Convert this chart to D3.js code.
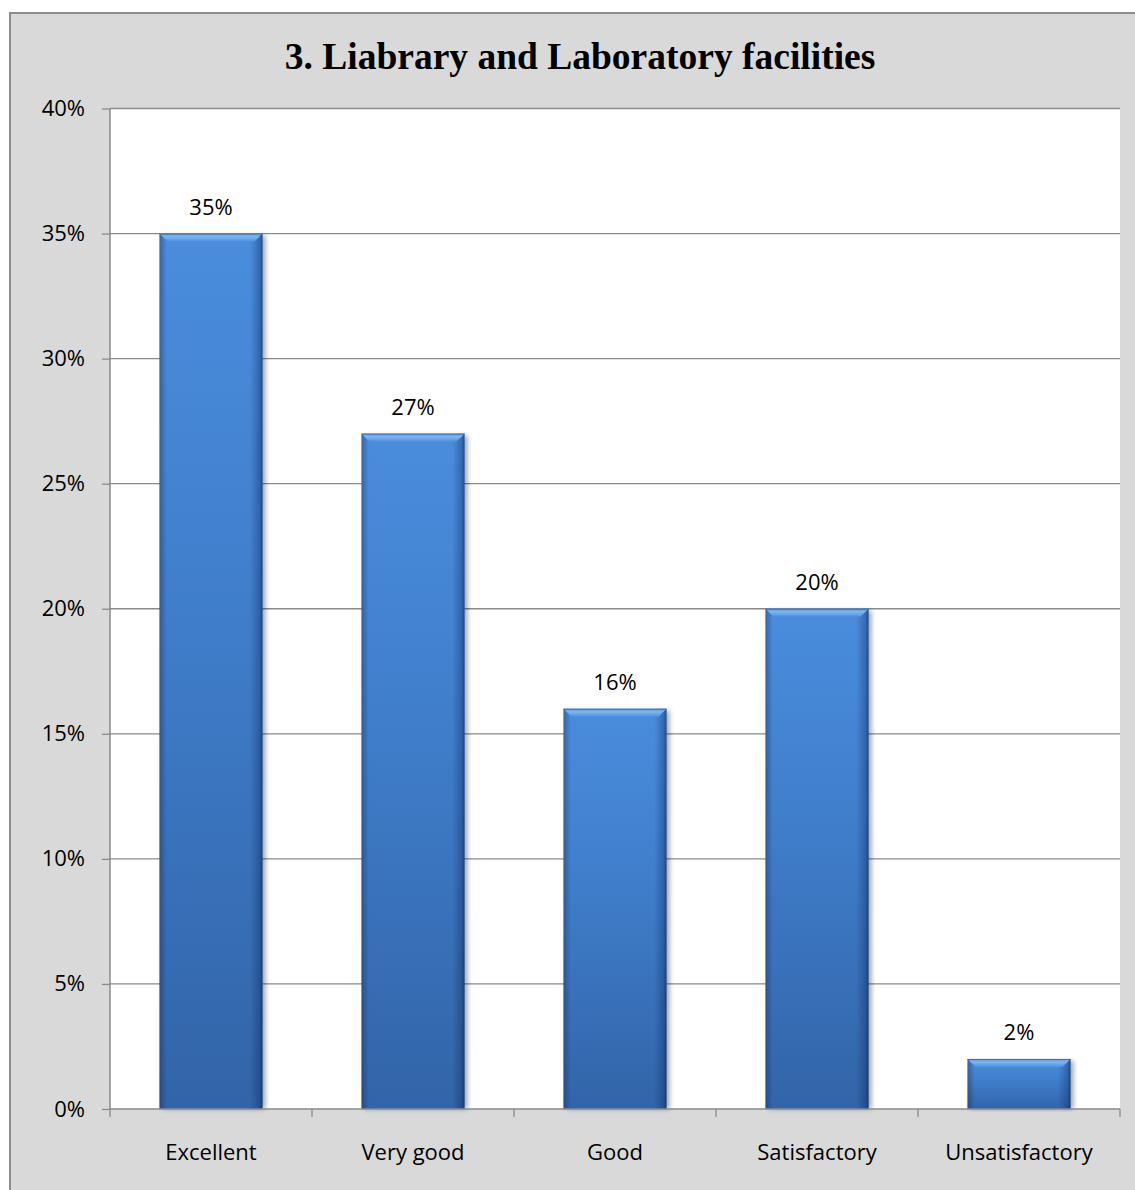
<!DOCTYPE html>
<html><head><meta charset="utf-8">
<script src="https://cdn.jsdelivr.net/npm/d3@7"></script>
<style>html,body{margin:0;padding:0;background:#fff;}svg{display:block;}</style>
</head><body>
<svg id="chart" width="1135" height="1190"></svg>
<script>
const title = "3. Liabrary and Laboratory facilities";
const categories = ["Excellent", "Very good", "Good", "Satisfactory", "Unsatisfactory"];
const values = [0.35, 0.27, 0.16, 0.20, 0.02];
const yTicks = [0, 0.05, 0.10, 0.15, 0.20, 0.25, 0.30, 0.35, 0.40];

const svg = d3.select("#chart");
const W = 1135, H = 1190;
const plot = {left: 110, right: 1120, top: 108.5, bottom: 1109};
const font = "'Open Sans', sans-serif";
const fs = 22;

const defs = svg.append("defs");
const gv = defs.append("linearGradient").attr("id","gv").attr("x1",0).attr("y1",0).attr("x2",0).attr("y2",1);
gv.append("stop").attr("offset","0%").attr("stop-color","#4a8ddd");
gv.append("stop").attr("offset","45%").attr("stop-color","#3f7dca");
gv.append("stop").attr("offset","100%").attr("stop-color","#3264a8");
const gh = defs.append("linearGradient").attr("id","gh").attr("x1",0).attr("y1",0).attr("x2",1).attr("y2",0);
gh.append("stop").attr("offset","0%").attr("stop-color","#0a1e46").attr("stop-opacity",0.35);
gh.append("stop").attr("offset","7%").attr("stop-color","#0a1e46").attr("stop-opacity",0.0);
gh.append("stop").attr("offset","88%").attr("stop-color","#0a1e46").attr("stop-opacity",0.0);
gh.append("stop").attr("offset","97%").attr("stop-color","#0a1e46").attr("stop-opacity",0.3);
gh.append("stop").attr("offset","100%").attr("stop-color","#0a1e46").attr("stop-opacity",0.6);
const gb = defs.append("linearGradient").attr("id","gb").attr("x1",0).attr("y1",0).attr("x2",0).attr("y2",1);
gb.append("stop").attr("offset","0%").attr("stop-color","#5a9ce6");
gb.append("stop").attr("offset","40%").attr("stop-color","#7bb6f3");
gb.append("stop").attr("offset","100%").attr("stop-color","#4f8fdc");
const blur = defs.append("filter").attr("id","sh").attr("x","-20%").attr("y","-5%").attr("width","140%").attr("height","110%");
blur.append("feGaussianBlur").attr("stdDeviation",2.5);

// background
svg.append("rect").attr("x",10).attr("y",13).attr("width",W+20).attr("height",H+20)
  .attr("fill","#d9d9d9").attr("stroke","#8c8c8c").attr("stroke-width",2);

// plot area
svg.append("rect").attr("x",plot.left).attr("y",plot.top)
  .attr("width",plot.right-plot.left).attr("height",plot.bottom-plot.top).attr("fill","#ffffff");

const x = d3.scaleBand().domain(categories).range([plot.left, plot.right])
  .paddingInner(0.49).paddingOuter(0.245);
const y = d3.scaleLinear().domain([0, 0.40]).range([plot.bottom, plot.top]);

// gridlines
svg.append("g").selectAll("line").data(yTicks.filter(d=>d>0)).join("line")
  .attr("x1",plot.left).attr("x2",plot.right)
  .attr("y1",d=>y(d)).attr("y2",d=>y(d))
  .attr("stroke","#8a8a8a").attr("stroke-width",1.3);

// y axis
const yAxis = d3.axisLeft(y).tickValues(yTicks).tickFormat(d3.format(".0%")).tickSize(8).tickPadding(17);
const gy = svg.append("g").attr("transform",`translate(${plot.left},0)`).call(yAxis);
gy.select(".domain").attr("stroke","#8a8a8a").attr("stroke-width",1.5).attr("d",`M0,${plot.top}V${plot.bottom}`);
gy.selectAll(".tick line").attr("stroke","#8a8a8a").attr("stroke-width",1.3);
gy.selectAll(".tick text").attr("font-family",font).attr("font-size",fs).attr("fill","#000");

// bars
const bars = svg.append("g").selectAll("g").data(categories).join("g");
bars.append("rect").attr("filter","url(#sh)")
  .attr("x",d=>x(d)+3).attr("y",(d,i)=>y(values[i])+2)
  .attr("width",x.bandwidth()).attr("height",(d,i)=>plot.bottom-y(values[i])-2)
  .attr("fill","#000").attr("opacity",0.35);
bars.append("rect").attr("x",d=>x(d)).attr("y",(d,i)=>y(values[i]))
  .attr("width",x.bandwidth()).attr("height",(d,i)=>plot.bottom-y(values[i]))
  .attr("fill","url(#gv)");
bars.append("rect").attr("x",d=>x(d)).attr("y",(d,i)=>y(values[i]))
  .attr("width",x.bandwidth()).attr("height",(d,i)=>plot.bottom-y(values[i]))
  .attr("fill","url(#gh)");
const bev = 8;
bars.append("path").attr("d",(d,i)=>{
  const x0 = x(d), x1 = x(d)+x.bandwidth(), t = y(values[i]);
  return `M${x0},${t}L${x1},${t}L${x1-bev},${t+bev}L${x0+bev},${t+bev}Z`;
}).attr("fill","url(#gb)");
bars.append("line").attr("x1",d=>x(d)).attr("x2",d=>x(d)+x.bandwidth())
  .attr("y1",(d,i)=>y(values[i])+0.5).attr("y2",(d,i)=>y(values[i])+0.5)
  .attr("stroke","#3a74be").attr("stroke-width",1);

// data labels
svg.append("g").selectAll("text").data(categories).join("text")
  .attr("x",d=>x(d)+x.bandwidth()/2).attr("y",(d,i)=>y(values[i])-19)
  .attr("text-anchor","middle").attr("font-family",font).attr("font-size",fs)
  .attr("fill","#000").text((d,i)=>d3.format(".0%")(values[i]));

// x axis
const xAxis = d3.axisBottom(x).tickSize(0).tickPadding(0);
const gx = svg.append("g").attr("transform",`translate(0,${plot.bottom})`).call(xAxis);
gx.select(".domain").attr("stroke","#8a8a8a").attr("stroke-width",1.5).attr("d",`M${plot.left},0H${plot.right}`);
gx.selectAll(".tick text").attr("font-family",font).attr("font-size",fs)
  .attr("fill","#000").attr("dy",null).attr("y",51);
// category separators
const seps = d3.range(categories.length+1).map(i => plot.left + i*x.step());
gx.append("g").selectAll("line").data(seps).join("line")
  .attr("x1",d=>d).attr("x2",d=>d).attr("y1",0).attr("y2",8)
  .attr("stroke","#8a8a8a").attr("stroke-width",1.3);

// title
svg.append("text").attr("x",580).attr("y",69).attr("text-anchor","middle")
  .attr("font-family","'Liberation Serif', 'Times New Roman', serif").attr("font-weight","bold")
  .attr("font-size",37.5).attr("fill","#000").text(title);
</script>
</body></html>
